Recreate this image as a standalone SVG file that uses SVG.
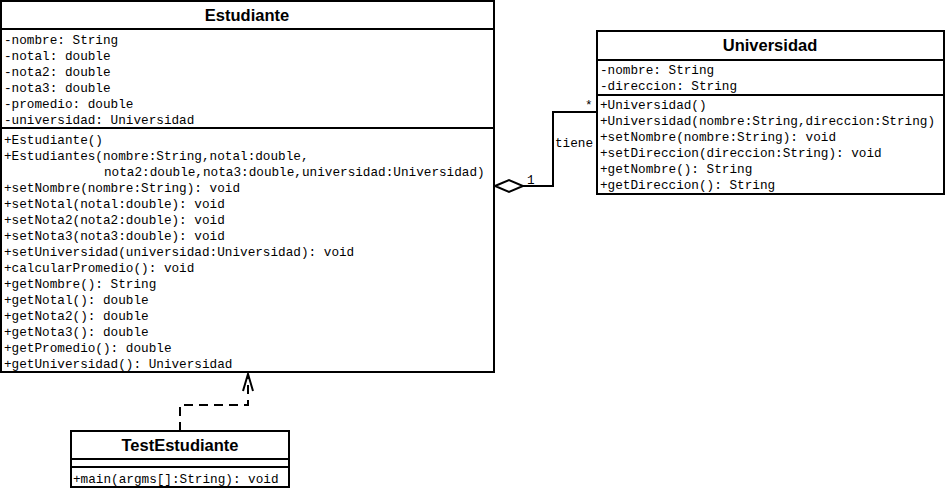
<svg xmlns="http://www.w3.org/2000/svg" width="947" height="488" viewBox="0 0 947 488">
<style>
.box{fill:#fff;stroke:#000;stroke-width:2}
.sep{stroke:#000;stroke-width:2}
.t{font-family:"Liberation Sans","DejaVu Sans",sans-serif;font-weight:bold;font-size:16.5px;text-anchor:middle;fill:#000}
.m{font-family:"Liberation Mono","Courier New",monospace;font-size:12.7px;fill:#000}
.ln{fill:none;stroke:#000;stroke-width:2}
.dash{fill:none;stroke:#000;stroke-width:2;stroke-dasharray:9,6}
</style>
<rect width="947" height="488" fill="#fff"/>
<g id="connectors">
  <polyline class="ln" points="523,186 553,186 553,112 597,112"/>
  <polygon points="495,186 509,180 523,186 509,192" fill="#fff" stroke="#000" stroke-width="2"/>
  <text class="m" x="527" y="184">1</text>
  <text class="m" x="585" y="109">*</text>
  <text class="m" x="555" y="147">tiene</text>
  <polyline class="dash" points="180,431 180,405 248,405 248,375"/>
  <polyline class="ln" points="243,391 248,374 253,391"/>
</g>
<g id="Estudiante">
  <rect class="box" x="1" y="1" width="493" height="371"/>
  <line class="sep" x1="1" y1="29" x2="494" y2="29"/>
  <line class="sep" x1="1" y1="128" x2="494" y2="128"/>
  <text class="t" x="247" y="21">Estudiante</text>
  <text class="m" x="4" y="44">-nombre: String</text>
  <text class="m" x="4" y="60">-notal: double</text>
  <text class="m" x="4" y="76">-nota2: double</text>
  <text class="m" x="4" y="92">-nota3: double</text>
  <text class="m" x="4" y="108">-promedio: double</text>
  <text class="m" x="4" y="124">-universidad: Universidad</text>
  <text class="m" x="4" y="144">+Estudiante()</text>
  <text class="m" x="4" y="160">+Estudiantes(nombre:String,notal:double,</text>
  <text class="m" x="104" y="176">nota2:double,nota3:double,universidad:Universidad)</text>
  <text class="m" x="4" y="192">+setNombre(nombre:String): void</text>
  <text class="m" x="4" y="208">+setNotal(notal:double): void</text>
  <text class="m" x="4" y="224">+setNota2(nota2:double): void</text>
  <text class="m" x="4" y="240">+setNota3(nota3:double): void</text>
  <text class="m" x="4" y="256">+setUniversidad(universidad:Universidad): void</text>
  <text class="m" x="4" y="272">+calcularPromedio(): void</text>
  <text class="m" x="4" y="288">+getNombre(): String</text>
  <text class="m" x="4" y="304">+getNotal(): double</text>
  <text class="m" x="4" y="320">+getNota2(): double</text>
  <text class="m" x="4" y="336">+getNota3(): double</text>
  <text class="m" x="4" y="352">+getPromedio(): double</text>
  <text class="m" x="4" y="368">+getUniversidad(): Universidad</text>
</g>
<g id="Universidad">
  <rect class="box" x="597" y="31" width="347" height="163"/>
  <line class="sep" x1="597" y1="60" x2="944" y2="60"/>
  <line class="sep" x1="597" y1="95" x2="944" y2="95"/>
  <text class="t" x="770" y="51">Universidad</text>
  <text class="m" x="600" y="74">-nombre: String</text>
  <text class="m" x="600" y="90">-direccion: String</text>
  <text class="m" x="600" y="109">+Universidad()</text>
  <text class="m" x="600" y="125">+Universidad(nombre:String,direccion:String)</text>
  <text class="m" x="600" y="141">+setNombre(nombre:String): void</text>
  <text class="m" x="600" y="157">+setDireccion(direccion:String): void</text>
  <text class="m" x="600" y="173">+getNombre(): String</text>
  <text class="m" x="600" y="189">+getDireccion(): String</text>
</g>
<g id="TestEstudiante">
  <rect class="box" x="71" y="431" width="218" height="56"/>
  <line class="sep" x1="71" y1="459" x2="289" y2="459"/>
  <line class="sep" x1="71" y1="467" x2="289" y2="467"/>
  <text class="t" x="180" y="451">TestEstudiante</text>
  <text class="m" x="73" y="483">+main(argms[]:String): void</text>
</g>
</svg>
